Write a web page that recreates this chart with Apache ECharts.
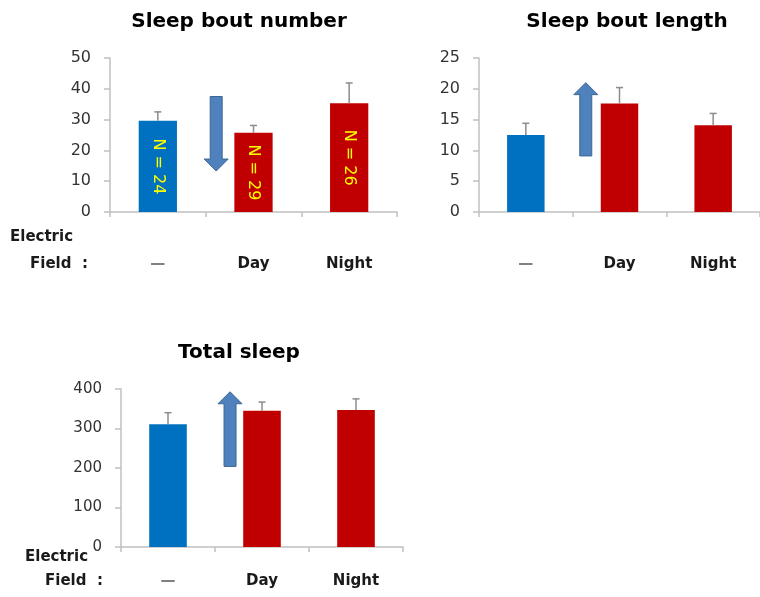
<!DOCTYPE html>
<html>
<head>
<meta charset="utf-8">
<script src="https://cdn.jsdelivr.net/npm/echarts@6/dist/echarts.min.js"></script>
<style>
  html, body { margin: 0; padding: 0; background: #fff; }
  #chart { width: 760px; height: 597px; }
</style>
</head>
<body>
<div id="chart"></div>
<script>
// Electric field exposure groups
const categories = ['—', 'Day', 'Night'];
const sampleSizes = ['N = 24', 'N = 29', 'N = 26'];

// Means and SEM per group
const boutNumberMean = [29.6, 25.7, 35.3];
const boutNumberSem = [2.9, 2.4, 6.6];
const boutLengthMean = [12.5, 17.6, 14.1];
const boutLengthSem = [1.9, 2.6, 1.9];
const totalSleepMean = [311, 345, 347];
const totalSleepSem = [29, 22, 28];

// Trend arrows: [start value, end value, position between 1st and 2nd group]
const boutNumberArrow = [37.5, 13.3, 0.61];
const boutLengthArrow = [9.1, 21.0, 0.64];
const totalSleepArrow = [204, 393, 0.66];

// Axis ranges and tick steps
const boutNumberAxis = [0, 50, 10];
const boutLengthAxis = [0, 25, 5];
const totalSleepAxis = [0, 400, 100];

const FONT = 'DejaVu Sans';
const groupColors = ['#0070C0', '#C00000', '#C00000'];

const chart = echarts.init(document.getElementById('chart'), null, { renderer: 'canvas' });

function barData(values) {
  return values.map((v, i) => ({ value: v, itemStyle: { color: groupColors[i] } }));
}

function errorBarItem(params, api) {
  const idx = api.value(0);
  const base = api.coord([idx, api.value(1)]);
  const top = api.coord([idx, api.value(1) + api.value(2)]);
  const style = { stroke: '#8c8c8c', lineWidth: 1.5 };
  return {
    type: 'group',
    children: [
      { type: 'line', shape: { x1: base[0], y1: base[1], x2: top[0], y2: top[1] }, style },
      { type: 'line', shape: { x1: top[0] - 3.5, y1: top[1], x2: top[0] + 3.5, y2: top[1] }, style }
    ]
  };
}

function arrowItem(params, api) {
  const from = api.value(1), to = api.value(2), t = api.value(3);
  const a0 = api.coord([0, from]);
  const a1 = api.coord([1, from]);
  const b0 = api.coord([0, to]);
  const x = a0[0] + (a1[0] - a0[0]) * t;
  const y1 = a0[1], y2 = b0[1];
  const dir = y2 < y1 ? -1 : 1;
  const shaftHalf = 6, headHalf = 12, headLen = 12;
  const neck = y2 - dir * headLen;
  return {
    type: 'polygon',
    shape: {
      points: [
        [x - shaftHalf, y1], [x + shaftHalf, y1], [x + shaftHalf, neck],
        [x + headHalf, neck], [x, y2], [x - headHalf, neck], [x - shaftHalf, neck]
      ]
    },
    style: { fill: '#4F81BD', stroke: '#3B6796', lineWidth: 1 }
  };
}

function xAxisFor(gridIndex, margin) {
  return {
    type: 'category',
    gridIndex,
    data: categories,
    axisLine: { lineStyle: { color: '#c0c0c0', width: 1.5 } },
    axisTick: { show: true, length: 5, lineStyle: { color: '#c0c0c0', width: 1.5 } },
    axisLabel: {
      interval: 0,
      margin, fontFamily: FONT, fontSize: 15, fontWeight: 'bold', color: '#1a1a1a',
      formatter: (v) => (v === '—' ? '{dash|' + v + '}' : v),
      rich: { dash: { fontFamily: FONT, fontSize: 15, fontWeight: 'bold', color: '#808080' } }
    }
  };
}

function yAxisFor(gridIndex, range, fontSize) {
  return {
    type: 'value',
    gridIndex,
    min: range[0], max: range[1], interval: range[2],
    axisLine: { show: true, lineStyle: { color: '#c0c0c0', width: 1.5 } },
    axisTick: { show: true, length: 6, lineStyle: { color: '#c0c0c0', width: 1.5 } },
    splitLine: { show: false },
    axisLabel: { margin: 19, fontFamily: FONT, fontSize, color: '#333333' }
  };
}

function groupSeries(idx, means, sems, arrow, withN) {
  const bar = {
    type: 'bar',
    xAxisIndex: idx, yAxisIndex: idx,
    barWidth: '40%',
    data: barData(means),
    z: 2
  };
  if (withN) {
    bar.label = {
      show: true,
      position: 'inside',
      rotate: -90,
      formatter: (p) => sampleSizes[p.dataIndex],
      fontFamily: FONT, fontSize: 16, color: '#FFFF00'
    };
  }
  return [
    bar,
    {
      type: 'custom',
      xAxisIndex: idx, yAxisIndex: idx,
      renderItem: errorBarItem,
      encode: { x: 0, y: 1 },
      data: means.map((m, i) => [i, m, sems[i]]),
      z: 3
    },
    {
      type: 'custom',
      xAxisIndex: idx, yAxisIndex: idx,
      renderItem: arrowItem,
      encode: { x: 0, y: [1, 2] },
      data: [[0, arrow[0], arrow[1], arrow[2]]],
      z: 4
    }
  ];
}

const titleStyle = { fontFamily: FONT, fontSize: 20, fontWeight: 'bold', color: '#000' };
const sideText = { fontFamily: FONT, fontSize: 15, fontWeight: 'bold', fill: '#1a1a1a' };

chart.setOption({
  animation: false,
  backgroundColor: '#fff',
  title: [
    { text: 'Sleep bout number', left: 239, top: 12, textAlign: 'center', padding: 0, textStyle: titleStyle },
    { text: 'Sleep bout length', left: 627, top: 12, textAlign: 'center', padding: 0, textStyle: titleStyle },
    { text: 'Total sleep', left: 239, top: 343, textAlign: 'center', padding: 0, textStyle: titleStyle }
  ],
  grid: [
    { left: 110, top: 58, width: 287, height: 154 },
    { left: 479, top: 58, width: 287, height: 154 },
    { left: 121, top: 389, width: 282, height: 158 }
  ],
  xAxis: [xAxisFor(0, 45), xAxisFor(1, 45), xAxisFor(2, 27)],
  yAxis: [yAxisFor(0, boutNumberAxis, 16), yAxisFor(1, boutLengthAxis, 16), yAxisFor(2, totalSleepAxis, 15)],
  graphic: [
    { type: 'text', left: 10, top: 230, style: Object.assign({ text: 'Electric' }, sideText) },
    { type: 'text', left: 30, top: 257, style: Object.assign({ text: 'Field  :' }, sideText) },
    { type: 'text', left: 25, top: 550, style: Object.assign({ text: 'Electric' }, sideText) },
    { type: 'text', left: 45, top: 574, style: Object.assign({ text: 'Field  :' }, sideText) }
  ],
  series: [
    ...groupSeries(0, boutNumberMean, boutNumberSem, boutNumberArrow, true),
    ...groupSeries(1, boutLengthMean, boutLengthSem, boutLengthArrow, false),
    ...groupSeries(2, totalSleepMean, totalSleepSem, totalSleepArrow, false)
  ]
});
</script>
</body>
</html>
